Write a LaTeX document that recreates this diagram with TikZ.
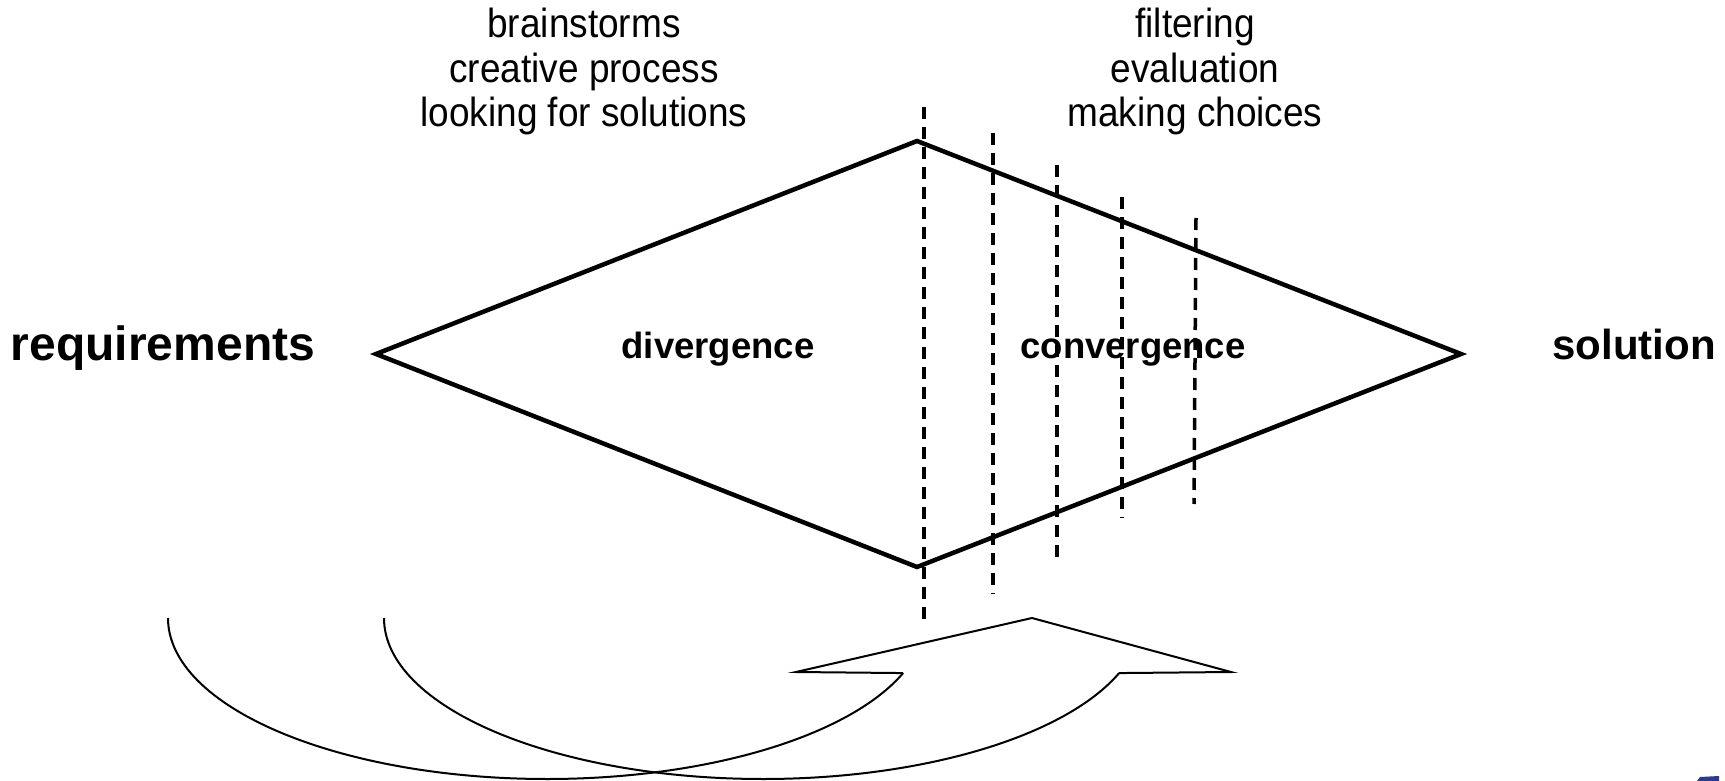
\documentclass[tikz,border=0pt]{standalone}
\usepackage{fontspec}
\setmainfont{Liberation Sans}
\definecolor{logoblue}{RGB}{40,62,140}
\newcommand{\talltext}[1]{\scalebox{1}[1.1]{#1}}
\begin{document}
\begin{tikzpicture}[x=1pt,y=-1pt,
  diamondline/.style={line width=4.5pt, line join=miter},
  cutline/.style={line width=3.5pt, dash pattern=on 12pt off 8pt},
  band/.style={line width=2pt, line join=miter},
  endlabel/.style={inner sep=0pt, anchor=base, font=\bfseries},
  phaselabel/.style={inner sep=0pt, anchor=base, font=\fontsize{36.5}{44}\selectfont\bfseries},
  notelabel/.style={inner sep=0pt, anchor=base, font=\fontsize{37}{44}\selectfont}
]
\useasboundingbox (0,0) rectangle (1725,781);

% diamond
\coordinate (L) at (376,354);
\coordinate (T) at (917,141);
\coordinate (R) at (1461,354);
\coordinate (B) at (917,567);
\draw[diamondline] (L) -- (T) -- (R) -- (B) -- cycle;

% dashed cut lines
\coordinate (d1t) at (924,107);  \coordinate (d1b) at (924,624);
\coordinate (d2t) at (993,133);  \coordinate (d2b) at (993,594);
\coordinate (d3t) at (1057,165); \coordinate (d3b) at (1057,558);
\coordinate (d4t) at (1122,197); \coordinate (d4b) at (1122,518);
\coordinate (d5t) at (1196,218); \coordinate (d5b) at (1194,504);
\foreach \i in {1,...,5} {\draw[cutline] (d\i t) -- (d\i b);}

% labels
\node[endlabel, font=\fontsize{48}{56}\selectfont\bfseries] (req) at (163,360) {requirements};
\node[endlabel, font=\fontsize{42}{50}\selectfont\bfseries] (sol) at (1634,359) {solution};
\node[phaselabel] (div) at (718,358) {divergence};
\node[phaselabel] (conv) at (1133,358) {convergence};

\node[notelabel] (b1) at (584,38) {\talltext{brainstorms}};
\node[notelabel] (b2) at (584,83) {\talltext{creative process}};
\node[notelabel] (b3) at (584,127) {\talltext{looking for solutions}};
\node[notelabel] (f1) at (1195,38) {\talltext{filtering}};
\node[notelabel] (f2) at (1195,83) {\talltext{evaluation}};
\node[notelabel] (f3) at (1195,127) {\talltext{making choices}};

% curved up arrow
\coordinate (a1) at (168,618);
\coordinate (a2) at (384,618);
\draw[band] (a1) arc[start angle=180, end angle=340, x radius=379pt, y radius=161pt] coordinate (a1e);
\draw[band] (a2) arc[start angle=180, end angle=340, x radius=379pt, y radius=161pt] coordinate (a2e);
\coordinate (hl) at (796,672);
\coordinate (tip) at (1032,618);
\coordinate (hr) at (1231,672);
\draw[band] (a1e) -- (hl) -- (tip) -- (hr) -- (a2e);

% logo fragment
\fill[logoblue] (1697,781) -- (1700,777) -- (1719,776) -- (1719,781) -- cycle;
\end{tikzpicture}
\end{document}
